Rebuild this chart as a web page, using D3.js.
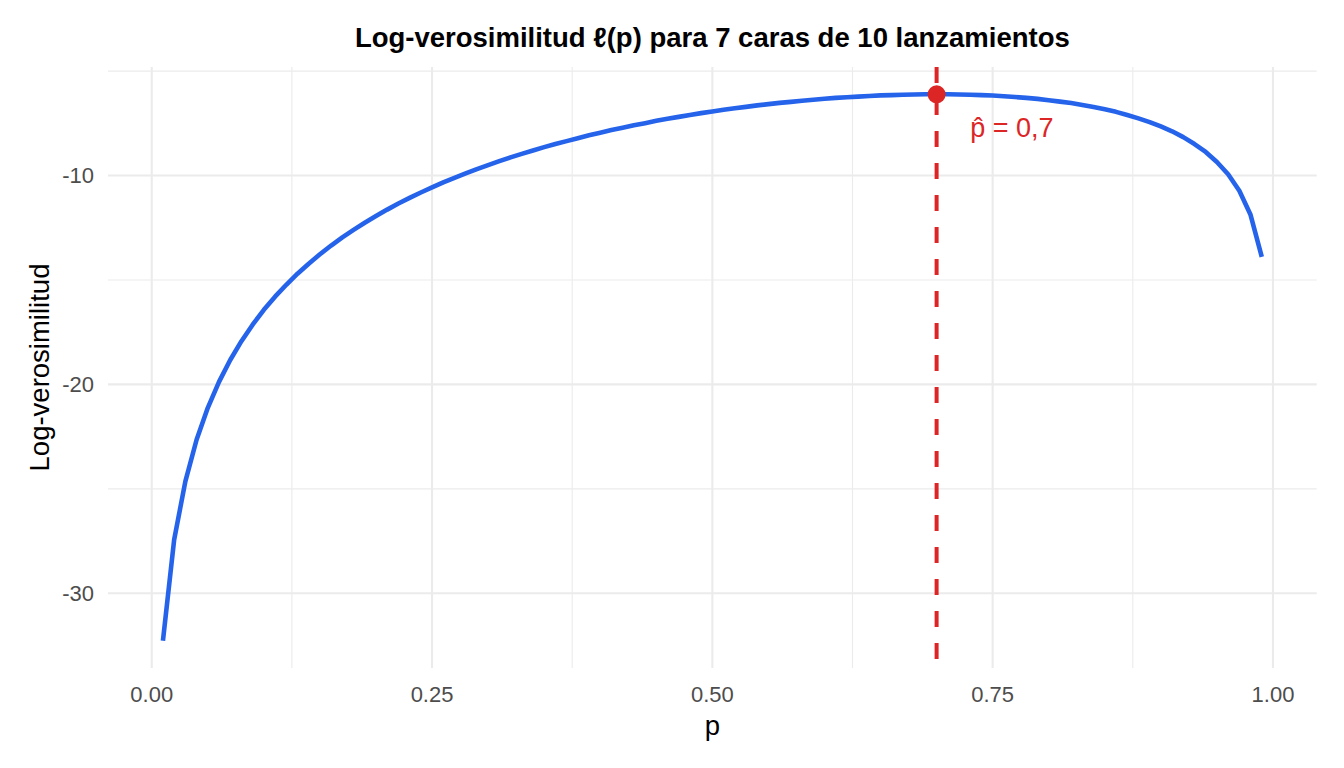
<!DOCTYPE html>
<meta charset="utf-8">
<style>
  body { margin: 0; background: #fff; }
  svg { font-family: "Liberation Sans", Arial, sans-serif; }
</style>
<svg width="1344" height="768"></svg>
<script src="https://d3js.org/d3.v7.min.js"></script>
<script>

// p grid and log-likelihood values (7 heads of 10 tosses)
var pValues = [0.01,0.02,0.03,0.04,0.05,0.06,0.07,0.08,0.09,0.10,
               0.11,0.12,0.13,0.14,0.15,0.16,0.17,0.18,0.19,0.20,
               0.21,0.22,0.23,0.24,0.25,0.26,0.27,0.28,0.29,0.30,
               0.31,0.32,0.33,0.34,0.35,0.36,0.37,0.38,0.39,0.40,
               0.41,0.42,0.43,0.44,0.45,0.46,0.47,0.48,0.49,0.50,
               0.51,0.52,0.53,0.54,0.55,0.56,0.57,0.58,0.59,0.60,
               0.61,0.62,0.63,0.64,0.65,0.66,0.67,0.68,0.69,0.70,
               0.71,0.72,0.73,0.74,0.75,0.76,0.77,0.78,0.79,0.80,
               0.81,0.82,0.83,0.84,0.85,0.86,0.87,0.88,0.89,0.90,
               0.91,0.92,0.93,0.94,0.95,0.96,0.97,0.98,0.99];

var logLik = [-32.27,-27.44,-24.64,-22.65,-21.12,-19.88,-18.83,-17.93,-17.14,-16.43,
              -15.80,-15.23,-14.70,-14.22,-13.77,-13.35,-12.96,-12.60,-12.26,-11.94,
              -11.63,-11.34,-11.07,-10.81,-10.57,-10.33,-10.11,-9.90,-9.69,-9.50,
              -9.31,-9.13,-8.96,-8.80,-8.64,-8.49,-8.35,-8.21,-8.07,-7.95,
              -7.82,-7.71,-7.59,-7.49,-7.38,-7.28,-7.19,-7.10,-7.01,-6.93,
              -6.85,-6.78,-6.71,-6.64,-6.58,-6.52,-6.47,-6.42,-6.37,-6.32,
              -6.28,-6.25,-6.22,-6.19,-6.16,-6.15,-6.13,-6.12,-6.11,-6.11,
              -6.11,-6.12,-6.13,-6.15,-6.17,-6.20,-6.24,-6.28,-6.33,-6.39,
              -6.46,-6.53,-6.62,-6.72,-6.83,-6.95,-7.10,-7.26,-7.44,-7.65,
              -7.88,-8.16,-8.49,-8.87,-9.35,-9.94,-10.73,-11.88,-13.89];

var pHat = 0.7,
    logLikMax = -6.11,
    labelPos = {p: 0.73, y: -7.7},
    labelText = "p\u0302 = 0,7";

var xTicks = [0, 0.25, 0.5, 0.75, 1],
    xMinor = [0.125, 0.375, 0.625, 0.875],
    yTicks = [-30, -20, -10],
    yMinor = [-25, -15, -5];

var svg = d3.select("svg"),
    margin = {top: 67, right: 27.3, bottom: 100, left: 108},
    width = +svg.attr("width"),
    height = +svg.attr("height"),
    innerW = width - margin.left - margin.right,
    innerH = height - margin.top - margin.bottom;

var blue = "#2563EB", red = "#DC2626", gridCol = "#EBEBEB";

// ggplot-like 5% expansion
function expand(ext) {
  var d = (ext[1] - ext[0]) * 0.05;
  return [ext[0] - d, ext[1] + d];
}

var x = d3.scaleLinear()
    .domain(expand(d3.extent(pValues)))
    .range([margin.left, margin.left + innerW]);

var y = d3.scaleLinear()
    .domain(expand([d3.min(logLik), logLikMax]))
    .range([margin.top + innerH, margin.top]);

var grid = svg.append("g");

grid.selectAll(".xminor").data(xMinor).enter().append("line")
    .attr("x1", d => x(d)).attr("x2", d => x(d))
    .attr("y1", margin.top).attr("y2", margin.top + innerH)
    .attr("stroke", gridCol).attr("stroke-width", 1.1);

grid.selectAll(".yminor").data(yMinor).enter().append("line")
    .attr("y1", d => y(d)).attr("y2", d => y(d))
    .attr("x1", margin.left).attr("x2", margin.left + innerW)
    .attr("stroke", gridCol).attr("stroke-width", 1.1);

grid.selectAll(".xmajor").data(xTicks).enter().append("line")
    .attr("x1", d => x(d)).attr("x2", d => x(d))
    .attr("y1", margin.top).attr("y2", margin.top + innerH)
    .attr("stroke", gridCol).attr("stroke-width", 2.1);

grid.selectAll(".ymajor").data(yTicks).enter().append("line")
    .attr("y1", d => y(d)).attr("y2", d => y(d))
    .attr("x1", margin.left).attr("x2", margin.left + innerW)
    .attr("stroke", gridCol).attr("stroke-width", 2.1);

// tick labels
svg.append("g").selectAll("text").data(xTicks).enter().append("text")
    .attr("x", d => x(d))
    .attr("y", margin.top + innerH + 34)
    .attr("text-anchor", "middle")
    .attr("font-size", 22)
    .attr("fill", "#4D4D4D")
    .text(d3.format(".2f"));

svg.append("g").selectAll("text").data(yTicks).enter().append("text")
    .attr("x", margin.left - 14)
    .attr("y", d => y(d))
    .attr("dy", "0.35em")
    .attr("text-anchor", "end")
    .attr("font-size", 22)
    .attr("fill", "#4D4D4D")
    .text(d => d);

// curve
var line = d3.line()
    .x((d, i) => x(pValues[i]))
    .y(d => y(d));

svg.append("path")
    .datum(logLik)
    .attr("d", line)
    .attr("fill", "none")
    .attr("stroke", blue)
    .attr("stroke-width", 4.6)
    .attr("stroke-linejoin", "round");

// MLE marker
svg.append("line")
    .attr("x1", x(pHat)).attr("x2", x(pHat))
    .attr("y1", margin.top).attr("y2", margin.top + innerH)
    .attr("stroke", red)
    .attr("stroke-width", 4)
    .attr("stroke-dasharray", "16,16");

svg.append("circle")
    .attr("cx", x(pHat))
    .attr("cy", y(logLikMax))
    .attr("r", 9)
    .attr("fill", red);

svg.append("text")
    .attr("x", x(labelPos.p))
    .attr("y", y(labelPos.y))
    .attr("dy", "0.35em")
    .attr("font-size", 27)
    .attr("fill", red)
    .text(labelText);

// titles
svg.append("text")
    .attr("x", margin.left + innerW / 2)
    .attr("y", 47)
    .attr("text-anchor", "middle")
    .attr("font-size", 27.5)
    .attr("font-weight", "bold")
    .text("Log-verosimilitud \u2113(p) para 7 caras de 10 lanzamientos");

svg.append("text")
    .attr("x", margin.left + innerW / 2)
    .attr("y", 735)
    .attr("text-anchor", "middle")
    .attr("font-size", 27.5)
    .text("p");

svg.append("text")
    .attr("transform", "translate(49," + (margin.top + innerH / 2) + ") rotate(-90)")
    .attr("text-anchor", "middle")
    .attr("font-size", 27.5)
    .text("Log-verosimilitud");

</script>
